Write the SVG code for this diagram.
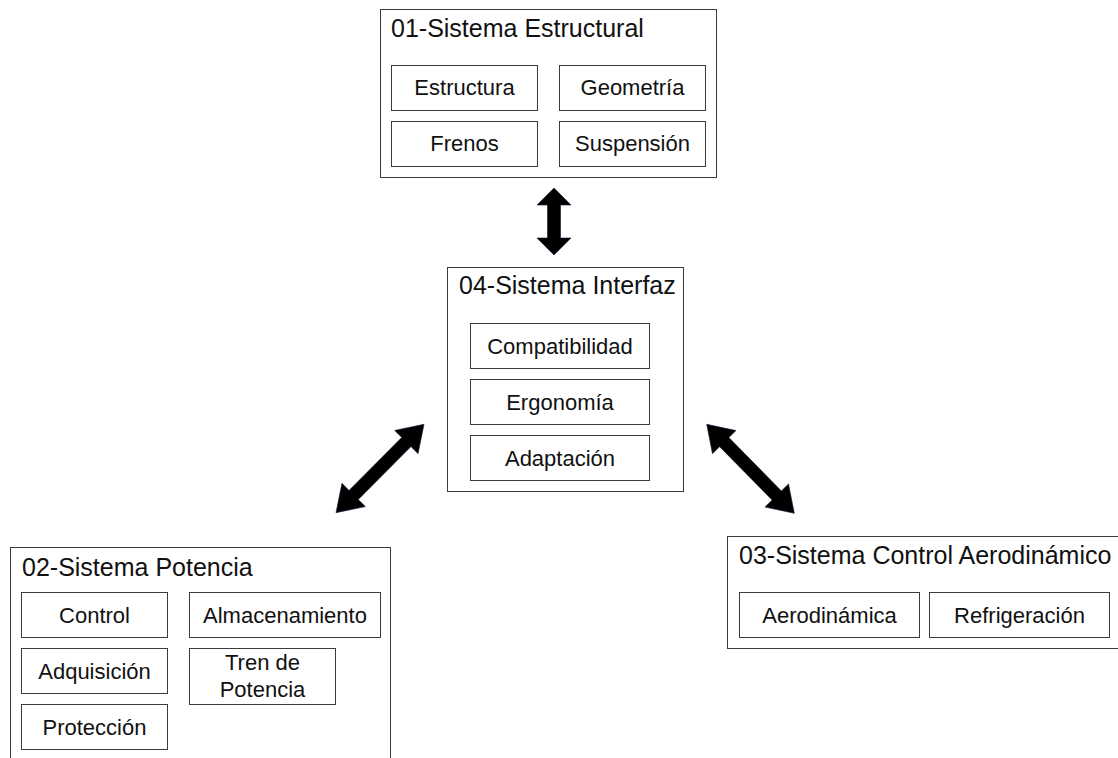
<svg xmlns="http://www.w3.org/2000/svg" width="1118" height="758" viewBox="0 0 1118 758">
  <style>
    .frame { fill: #ffffff; stroke: #3c3c3c; stroke-width: 1; }
    .item { fill: #ffffff; stroke: #3c3c3c; stroke-width: 1; }
    .title { font-family: "Liberation Sans", Arial, sans-serif; font-size: 25px; fill: #111111; }
    .label { font-family: "Liberation Sans", Arial, sans-serif; font-size: 22px; fill: #111111; text-anchor: middle; }
    .arrow { fill: #000000; stroke: #0a1a3a; stroke-width: 0.6; stroke-linejoin: miter; }
  </style>
  <rect x="0" y="0" width="1118" height="758" fill="#ffffff"/>

  <!-- 01 Structural system -->
  <g id="sistema-estructural">
    <rect class="frame" x="380.5" y="9.5" width="336" height="168"/>
    <text class="title" x="391" y="37">01-Sistema Estructural</text>
    <rect class="item" x="391.5" y="65.5" width="146" height="45"/>
    <text class="label" x="464.5" y="95">Estructura</text>
    <rect class="item" x="559.5" y="65.5" width="146" height="45"/>
    <text class="label" x="632.5" y="95">Geometría</text>
    <rect class="item" x="391.5" y="121.5" width="146" height="45"/>
    <text class="label" x="464.5" y="151">Frenos</text>
    <rect class="item" x="559.5" y="121.5" width="146" height="45"/>
    <text class="label" x="632.5" y="151">Suspensión</text>
  </g>

  <!-- 04 Interface system -->
  <g id="sistema-interfaz">
    <rect class="frame" x="447.5" y="267.5" width="236" height="224"/>
    <text class="title" x="459" y="294">04-Sistema Interfaz</text>
    <rect class="item" x="470.5" y="323.5" width="179" height="45"/>
    <text class="label" x="560" y="353.5">Compatibilidad</text>
    <rect class="item" x="470.5" y="379.5" width="179" height="45"/>
    <text class="label" x="560" y="409.5">Ergonomía</text>
    <rect class="item" x="470.5" y="435.5" width="179" height="45"/>
    <text class="label" x="560" y="465.5">Adaptación</text>
  </g>

  <!-- 02 Power system -->
  <g id="sistema-potencia">
    <rect class="frame" x="10.5" y="547.5" width="380" height="230"/>
    <text class="title" x="22" y="576">02-Sistema Potencia</text>
    <rect class="item" x="21.5" y="592.5" width="146" height="45"/>
    <text class="label" x="94.5" y="623">Control</text>
    <rect class="item" x="189.5" y="592.5" width="191" height="45"/>
    <text class="label" x="285" y="623">Almacenamiento</text>
    <rect class="item" x="21.5" y="648.5" width="146" height="45"/>
    <text class="label" x="94.5" y="679">Adquisición</text>
    <rect class="item" x="189.5" y="648.5" width="146" height="56"/>
    <text class="label" x="262.5" y="670">Tren de</text>
    <text class="label" x="262.5" y="696.5">Potencia</text>
    <rect class="item" x="21.5" y="704.5" width="146" height="45"/>
    <text class="label" x="94.5" y="735">Protección</text>
  </g>

  <!-- 03 Aerodynamic control system -->
  <g id="sistema-control-aerodinamico">
    <rect class="frame" x="727.5" y="536.5" width="400" height="112"/>
    <text class="title" x="739" y="564">03-Sistema Control Aerodinámico</text>
    <rect class="item" x="739.5" y="592.5" width="180" height="45"/>
    <text class="label" x="829.5" y="623">Aerodinámica</text>
    <rect class="item" x="929.5" y="592.5" width="180" height="45"/>
    <text class="label" x="1019.5" y="623">Refrigeración</text>
  </g>

  <!-- double-headed connectors -->
  <g id="connectors">
    <polygon class="arrow" points="554,188 571,205 560.5,205 560.5,238 571,238 554,255 537,238 547.5,238 547.5,205 537,205"/>
    <polygon class="arrow" points="424,424.3 418.06,453.66 410.97,446.61 358.25,499.57 365.34,506.62 336,512.7 341.94,483.34 349.03,490.39 401.75,437.43 394.66,430.38"/>
    <polygon class="arrow" points="706.7,424.3 735.99,430.54 728.86,437.55 781.4,490.93 788.53,483.92 794.3,513.3 765.01,507.06 772.14,500.05 719.6,446.67 712.47,453.68"/>
  </g>
</svg>
